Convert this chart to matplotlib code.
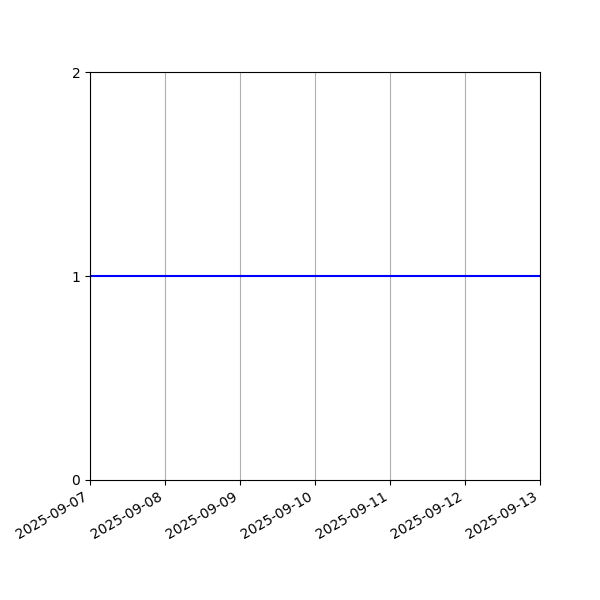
import matplotlib
matplotlib.use("Agg")
import matplotlib.pyplot as plt
import matplotlib.dates as mdates
import pandas as pd

dates = pd.date_range("2025-09-07", "2025-09-13", freq="D")
values = [1, 1, 1, 1, 1, 1, 1]

fig, ax = plt.subplots(figsize=(6, 6), dpi=100)
ax.plot(dates, values, color="blue")
ax.set_xlim(dates[0], dates[-1])
ax.set_ylim(0, 2)
ax.set_yticks([0, 1, 2])
ax.xaxis.set_major_locator(mdates.DayLocator())
ax.xaxis.set_major_formatter(mdates.DateFormatter("%Y-%m-%d"))
ax.grid(axis="x")
fig.autofmt_xdate()
fig.subplots_adjust(left=0.15, right=0.9, top=0.88, bottom=0.2)

fig.savefig("out.png")
